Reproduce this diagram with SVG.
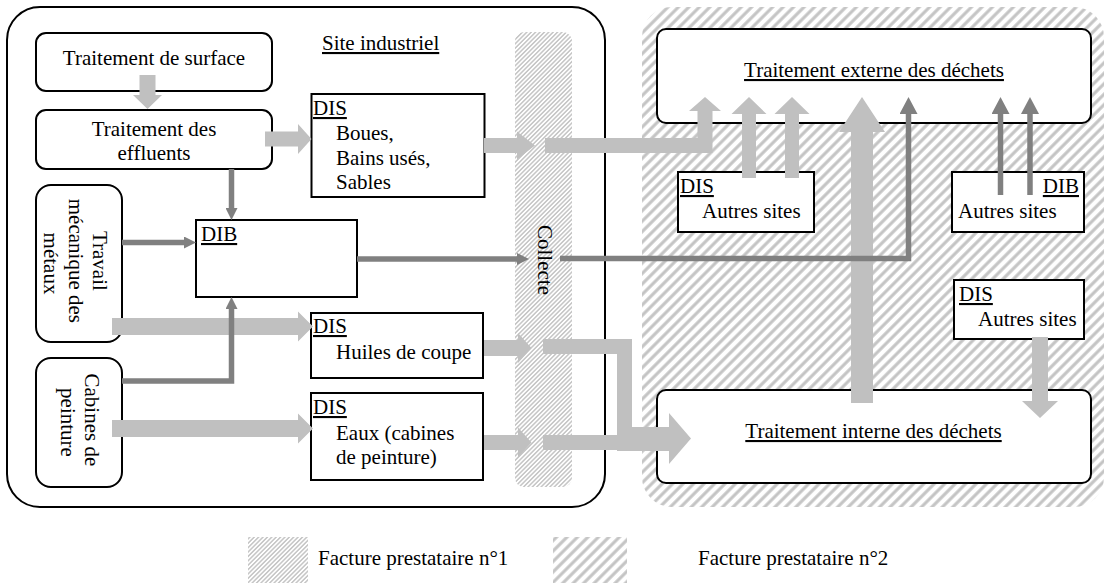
<svg xmlns="http://www.w3.org/2000/svg" width="1106" height="583" viewBox="0 0 1106 583">
  <style>
    .t { font-family: "Liberation Serif", "Times New Roman", serif; font-size: 21px; fill: #000; }
    .u { text-decoration: underline; }
    .mid { text-anchor: middle; }
    .box { fill: #fff; stroke: #000; stroke-width: 2; }
    .frame { fill: #fff; stroke: #000; stroke-width: 2; }
    .light { fill: #c0c0c0; stroke: none; }
    .dark { fill: none; stroke: #808080; stroke-width: 5.5; }
    .darkS { marker-end: url(#headS); }
    .darkL { marker-end: url(#headL); }
  </style>
  <defs>
    <!-- fine hatching: on-site collection -->
    <pattern id="hatchFine" patternUnits="userSpaceOnUse" width="3.1" height="3.1" patternTransform="rotate(45)">
      <line x1="1.55" y1="0" x2="1.55" y2="3.1" stroke="#bcbcbc" stroke-width="1.3"/>
    </pattern>
    <!-- coarse hatching: external provider -->
    <pattern id="hatchCoarse" patternUnits="userSpaceOnUse" width="7.4" height="7.4" patternTransform="rotate(45)">
      <line x1="3.7" y1="0" x2="3.7" y2="7.4" stroke="#c4c4c4" stroke-width="3.1"/>
    </pattern>
    <marker id="headS" markerUnits="userSpaceOnUse" markerWidth="12" markerHeight="12" viewBox="0 0 12 12" refX="0" refY="6" orient="auto">
      <path d="M0,0 L12,6 L0,12 Z" fill="#808080"/>
    </marker>
    <marker id="headL" markerUnits="userSpaceOnUse" markerWidth="17" markerHeight="18" viewBox="0 0 17 18" refX="0" refY="9" orient="auto">
      <path d="M0,0 L17,9 L0,18 Z" fill="#808080"/>
    </marker>
  </defs>

  <rect width="1106" height="583" fill="#fff"/>

  <!-- provider area (invoice 2) -->
  <g id="zone-prestataire2">
    <rect x="642" y="7" width="462" height="500" rx="30" fill="url(#hatchCoarse)"/>
  </g>

  <!-- industrial site frame -->
  <g id="site-industriel">
    <rect class="frame" x="7" y="7" width="598" height="500" rx="33"/>
    <text class="t u" x="322" y="50">Site industriel</text>
  </g>

  <!-- collection strip (invoice 1) -->
  <g id="collecte">
    <rect x="515" y="32" width="57" height="455" rx="9" fill="url(#hatchFine)"/>
    <text class="t mid" transform="translate(538,260) rotate(90)">Collecte</text>
  </g>

  <g id="traitement-surface">
    <rect class="box" x="36" y="33" width="236" height="58" rx="10"/>
    <text class="t mid" x="154" y="65">Traitement de surface</text>
  </g>

  <g id="traitement-effluents">
    <rect class="box" x="36" y="110" width="236" height="59" rx="10"/>
    <text class="t mid" x="154" y="136">Traitement des</text>
    <text class="t mid" x="154" y="160">effluents</text>
  </g>

  <g id="travail-metaux">
    <rect class="box" x="36" y="185" width="86" height="157" rx="15"/>
    <text class="t mid" transform="translate(93,263.5) rotate(90)">
      <tspan x="0" y="0">Travail</tspan>
      <tspan x="0" y="24.5">mécanique des</tspan>
      <tspan x="0" y="49">métaux</tspan>
    </text>
  </g>

  <g id="cabines-peinture">
    <rect class="box" x="36" y="358" width="86" height="129" rx="15"/>
    <text class="t mid" transform="translate(85,422.5) rotate(90)">
      <tspan x="0" y="0">Cabines de</tspan>
      <tspan x="0" y="24.5">peinture</tspan>
    </text>
  </g>

  <g id="dis-boues">
    <rect class="box" x="311.5" y="94" width="173" height="103"/>
    <text class="t u" x="313" y="115">DIS</text>
    <text class="t" x="336" y="140">Boues,</text>
    <text class="t" x="336" y="164.5">Bains usés,</text>
    <text class="t" x="336" y="189">Sables</text>
  </g>

  <g id="dib-site">
    <rect class="box" x="196" y="220" width="161" height="77"/>
    <text class="t u" x="201" y="241">DIB</text>
  </g>

  <g id="dis-huiles">
    <rect class="box" x="311" y="313" width="172" height="65"/>
    <text class="t u" x="313" y="333">DIS</text>
    <text class="t" x="336" y="359">Huiles de coupe</text>
  </g>

  <g id="dis-eaux">
    <rect class="box" x="311" y="393" width="172" height="87"/>
    <text class="t u" x="313" y="414">DIS</text>
    <text class="t" x="336" y="439.5">Eaux (cabines</text>
    <text class="t" x="336" y="464">de peinture)</text>
  </g>

  <g id="traitement-externe">
    <rect class="box" x="657" y="29" width="434" height="94" rx="9"/>
    <text class="t u mid" x="874" y="77">Traitement externe des déchets</text>
  </g>

  <g id="traitement-interne">
    <rect class="box" x="657" y="390" width="434" height="93" rx="9"/>
    <text class="t u mid" x="873.5" y="438">Traitement interne des déchets</text>
  </g>

  <g id="dis-autres-sites-1">
    <rect class="box" x="678" y="172" width="136" height="60"/>
    <text class="t u" x="680" y="193">DIS</text>
    <text class="t" x="702" y="218">Autres sites</text>
  </g>

  <g id="dib-autres-sites">
    <rect class="box" x="952" y="172" width="132" height="60"/>
    <text class="t u" x="1079" y="193" text-anchor="end">DIB</text>
    <text class="t" x="958" y="218">Autres sites</text>
  </g>

  <g id="dis-autres-sites-2">
    <rect class="box" x="954" y="280" width="130" height="59"/>
    <text class="t u" x="959" y="301">DIS</text>
    <text class="t" x="978" y="326">Autres sites</text>
  </g>

  <!-- flows -->
  <g id="connecteurs">
    <!-- hazardous waste flows (light, wide) -->
    <polygon class="light" points="139.5,75 155.5,75 155.5,95 162,95 147.5,109 133,95 139.5,95"/>
    <polygon class="light" points="265,131.5 298,131.5 298,124 311.5,139 298,154 298,146.5 265,146.5"/>
    <polygon class="light" points="112,318 298,318 298,311.5 313,326.5 298,341.5 298,335 112,335"/>
    <polygon class="light" points="112,420 298,420 298,413.5 313,428.5 298,443.5 298,437 112,437"/>
    <polygon class="light" points="484,138 517,138 517,131.5 535,145.5 517,159.5 517,153 484,153"/>
    <polygon class="light" points="545,138 697.5,138 697.5,111 689,111 705,97 721,111 712.5,111 712.5,153 545,153"/>
    <polygon class="light" points="484,340 518,340 518,333 531.5,348 518,363 518,356 484,356"/>
    <polygon class="light" points="484,435 518,435 518,427.5 531.5,442.5 518,457.5 518,450 484,450"/>
    <polygon class="light" points="543,339 632,339 632,451 617,451 617,354 543,354"/>
    <rect class="light" x="543" y="435" width="74" height="15"/>
    <polygon class="light" points="617,427 669,427 669,413 691,438.5 669,464 669,451 617,451"/>
    <polygon class="light" points="742,178 742,114 731.5,114 749,97 766.5,114 756,114 756,178"/>
    <polygon class="light" points="785,178 785,114 774.5,114 792,97 809.5,114 799,114 799,178"/>
    <polygon class="light" points="851,403 851,132 839,132 862,97 885,132 873,132 873,403"/>
    <polygon class="light" points="1032,337 1048,337 1048,401 1058,401 1040,418 1022,401 1032,401"/>

    <!-- ordinary industrial waste flows (dark, thin) -->
    <path class="dark darkS" d="M122,242.5 H184"/>
    <path class="dark darkS" d="M231.5,169 V208"/>
    <path class="dark darkS" d="M122,381 H231.5 V309"/>
    <path class="dark darkS" d="M357,259 H517"/>
    <path class="dark darkL" d="M560,258.5 H908.5 V114"/>
    <path class="dark darkL" d="M1000.5,195 V114"/>
    <path class="dark darkL" d="M1030,195 V114"/>
  </g>

  <!-- legend -->
  <g id="legende">
    <rect x="248" y="537" width="60" height="46" fill="url(#hatchFine)"/>
    <text class="t" x="318" y="565">Facture prestataire n°1</text>
    <rect x="553" y="537" width="74" height="46" fill="url(#hatchCoarse)"/>
    <text class="t" x="698" y="565">Facture prestataire n°2</text>
  </g>
</svg>
